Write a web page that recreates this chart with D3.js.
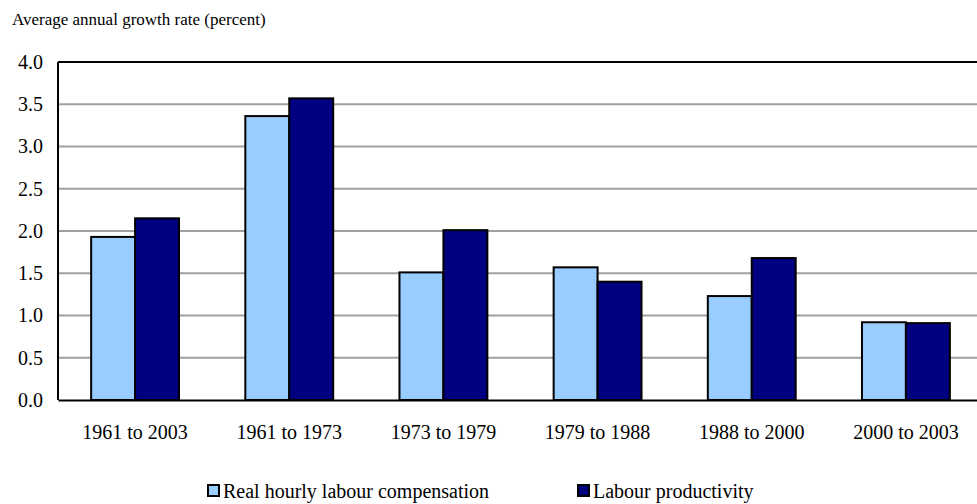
<!DOCTYPE html>
<html>
<head>
<meta charset="utf-8">
<script src="https://cdn.jsdelivr.net/npm/d3@7"></script>
<style>
    body { margin: 0; background: #fff; }
    svg text { font-family: "Liberation Serif", "Times New Roman", serif; fill: #000; }
</style>
</head>
<body>
<div id="chart"></div>
<script>
'use strict';

// Data
const periods = ["1961 to 2003", "1961 to 1973", "1973 to 1979", "1979 to 1988", "1988 to 2000", "2000 to 2003"];
const compensation = [1.93, 3.36, 1.51, 1.57, 1.23, 0.92];
const productivity = [2.15, 3.57, 2.01, 1.40, 1.68, 0.91];
const seriesNames = ["Real hourly labour compensation", "Labour productivity"];
const yTicks = [0, 0.5, 1, 1.5, 2, 2.5, 3, 3.5, 4];

const colors = ["#99ccff", "#000080"];
const fontSize = 20;

const width = 977, height = 504;
const margin = { top: 62, right: -6, bottom: 104, left: 58 };
const innerW = width - margin.left - margin.right;
const innerH = height - margin.top - margin.bottom;

const svg = d3.select("#chart").append("svg")
    .attr("width", width)
    .attr("height", height);

svg.append("text")
    .attr("x", 12)
    .attr("y", 25)
    .attr("font-size", 17)
    .text("Average annual growth rate (percent)");

const chart = svg.append("g")
    .attr("transform", `translate(${margin.left},${margin.top})`);

const x = d3.scaleBand().domain(periods).range([0, innerW]);
const x1 = d3.scaleBand().domain([0, 1]).range([x.bandwidth() * 0.215, x.bandwidth() * 0.785]);
const y = d3.scaleLinear().domain([0, 4]).range([innerH, 0]);

// gridlines
chart.append("g")
    .selectAll("line")
    .data(yTicks.filter(t => t > 0 && t < 4))
    .join("line")
    .attr("x1", 0).attr("x2", innerW)
    .attr("y1", d => y(d)).attr("y2", d => y(d))
    .attr("stroke", "#a0a0a0")
    .attr("stroke-width", 2);

// bars
const rows = periods.map((p, i) => ({ period: p, values: [compensation[i], productivity[i]] }));

chart.append("g")
    .selectAll("g")
    .data(rows)
    .join("g")
    .attr("transform", d => `translate(${x(d.period)},0)`)
    .selectAll("rect")
    .data(d => d.values.map((v, k) => ({ k, v })))
    .join("rect")
    .attr("x", d => x1(d.k))
    .attr("y", d => y(d.v))
    .attr("width", x1.bandwidth())
    .attr("height", d => innerH - y(d.v))
    .attr("fill", d => colors[d.k])
    .attr("stroke", "#000")
    .attr("stroke-width", 2);

// frame: top and left lines
chart.append("line")
    .attr("x1", 0).attr("x2", innerW).attr("y1", 0).attr("y2", 0)
    .attr("stroke", "#000").attr("stroke-width", 2);
chart.append("line")
    .attr("x1", 0).attr("x2", 0).attr("y1", 0).attr("y2", innerH)
    .attr("stroke", "#000").attr("stroke-width", 2);

const axisY = chart.append("g")
    .call(d3.axisLeft(y).tickValues(yTicks).tickFormat(d3.format(".1f")).tickSize(0).tickPadding(15));
axisY.select(".domain").remove();
axisY.selectAll("text").attr("font-size", fontSize).attr("font-family", "Liberation Serif, serif");

const axisX = chart.append("g")
    .attr("transform", `translate(0,${innerH})`)
    .call(d3.axisBottom(x).tickSize(0).tickPadding(25));
axisX.select(".domain").attr("stroke", "#000").attr("stroke-width", 2);
axisX.selectAll("text").attr("font-size", fontSize).attr("font-family", "Liberation Serif, serif");

// legend
const legend = svg.append("g");
const legendX = [208, 578];
seriesNames.forEach((name, k) => {
    legend.append("rect")
        .attr("x", legendX[k]).attr("y", 485)
        .attr("width", 11).attr("height", 11)
        .attr("fill", colors[k])
        .attr("stroke", "#000").attr("stroke-width", 2);
    legend.append("text")
        .attr("x", legendX[k] + 15).attr("y", 498)
        .attr("font-size", fontSize)
        .text(name);
});
</script>
</body>
</html>
